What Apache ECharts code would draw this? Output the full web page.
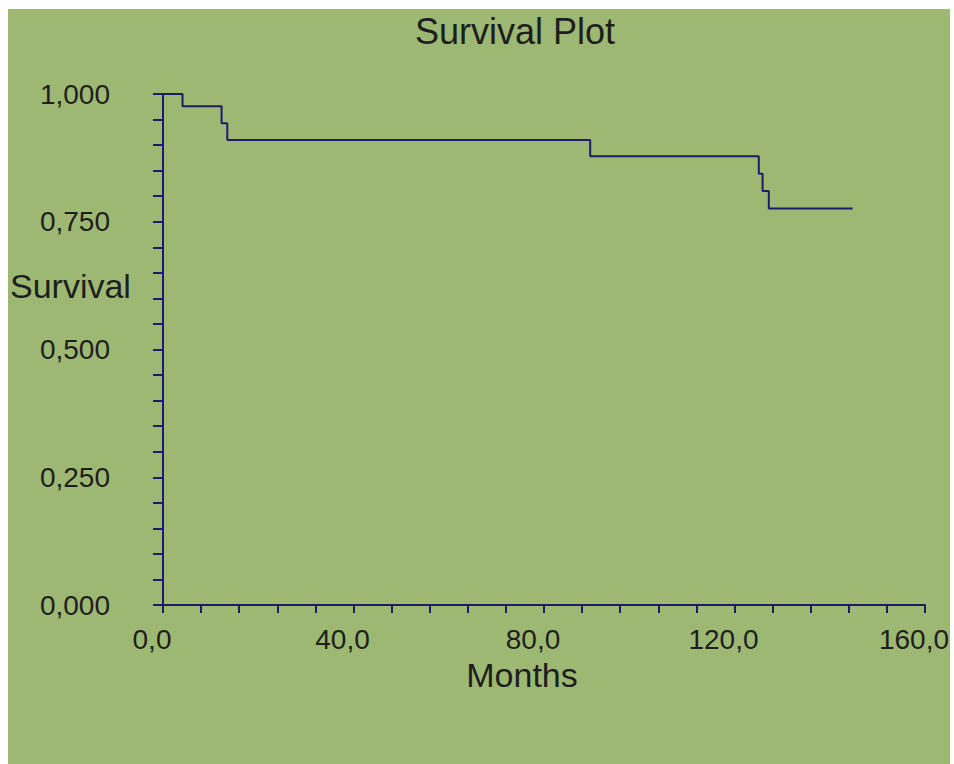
<!DOCTYPE html>
<html>
<head>
<meta charset="utf-8">
<script src="https://cdn.jsdelivr.net/npm/echarts@6/dist/echarts.min.js"></script>
<style>
html,body{margin:0;padding:0;background:#ffffff;}
#chart{width:954px;height:764px;}
</style>
</head>
<body>
<div id="chart"></div>
<script>
// Data
var months = [0, 4.1, 12.3, 13.5, 89.7, 125.1, 125.9, 127.2, 144.8];
var survival = [1.000, 0.976, 0.943, 0.910, 0.878, 0.844, 0.810, 0.776, 0.776];
var xTickLabels = ['0,0', '40,0', '80,0', '120,0', '160,0'];
var yTickLabels = ['0,000', '0,250', '0,500', '0,750', '1,000'];

var navy = '#1c1c6b';
var green = '#9db873';
var textColor = '#1e1e1e';
var font = '"Liberation Sans", Arial, sans-serif';

var points = months.map(function (m, i) { return [m, survival[i]]; });

var chart = echarts.init(document.getElementById('chart'), null, {renderer: 'svg'});
chart.setOption({
  animation: false,
  backgroundColor: '#ffffff',
  textStyle: {fontFamily: font},
  graphic: [{
    type: 'rect', z: -100, silent: true,
    shape: {x: 8, y: 9, width: 942, height: 755},
    style: {fill: green}
  }],
  title: [{
    text: 'Survival Plot',
    left: 410, top: 8,
    textStyle: {fontSize: 36, fontWeight: 'normal', color: textColor, fontFamily: font}
  }, {
    text: 'Survival',
    left: 5, top: 264,
    textStyle: {fontSize: 34, fontWeight: 'normal', color: textColor, fontFamily: font}
  }],
  grid: {left: 163, right: 29, top: 94, bottom: 159, containLabel: false, outerBoundsMode: 'none'},
  xAxis: {
    type: 'value', min: 0, max: 160, interval: 40,
    name: 'Months', nameLocation: 'middle', nameGap: 41,
    nameTextStyle: {fontSize: 34, color: textColor, fontFamily: font, padding: [0, 44, 0, 0]},
    axisLine: {show: true, lineStyle: {color: navy, width: 2}},
    axisTick: {show: true, length: 8, inside: false, lineStyle: {color: navy, width: 2}},
    minorTick: {show: true, splitNumber: 5, length: 8, lineStyle: {color: navy, width: 2}},
    splitLine: {show: false},
    axisLabel: {
      fontSize: 28, color: textColor, fontFamily: font, margin: 20, padding: [0, 22, 0, 0],
      formatter: function (v) { return xTickLabels[Math.round(v / 40)]; }
    }
  },
  yAxis: {
    type: 'value', min: 0, max: 1, interval: 0.25,
    axisLine: {show: true, lineStyle: {color: navy, width: 2}},
    axisTick: {show: true, length: 10, lineStyle: {color: navy, width: 2}},
    minorTick: {show: true, splitNumber: 5, length: 10, lineStyle: {color: navy, width: 2}},
    splitLine: {show: false},
    axisLabel: {
      fontSize: 28, color: textColor, fontFamily: font, margin: 53,
      formatter: function (v) { return yTickLabels[Math.round(v / 0.25)]; }
    }
  },
  series: [{
    type: 'line', step: 'end', data: points,
    showSymbol: false, symbol: 'none',
    lineStyle: {color: navy, width: 2}
  }]
});
</script>
</body>
</html>
